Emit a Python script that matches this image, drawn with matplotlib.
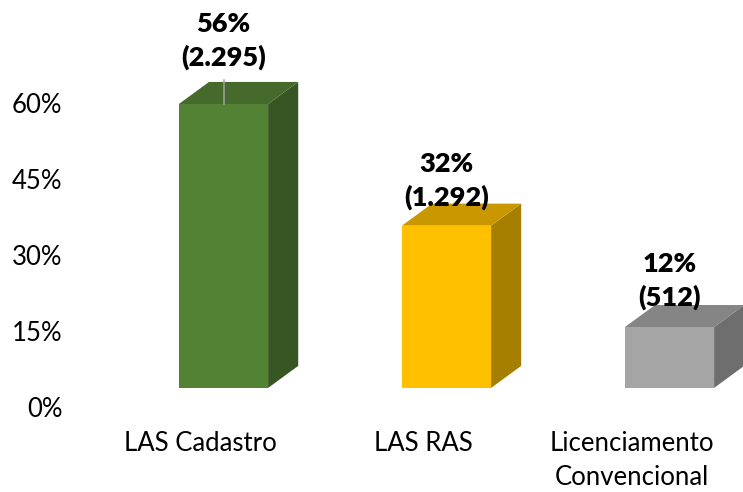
import matplotlib
matplotlib.use("Agg")
import matplotlib.pyplot as plt
from matplotlib.patches import Polygon

# ---------------------------------------------------------------------------
# data
# ---------------------------------------------------------------------------
categories = ["LAS Cadastro", "LAS RAS", "Licenciamento\nConvencional"]
shares = [56, 32, 12]            # %
counts = [2295, 1292, 512]
ytick_values = [0, 15, 30, 45, 60]

# ---------------------------------------------------------------------------
# styling
# ---------------------------------------------------------------------------
front_colors = ["#548235", "#FFC000", "#A5A5A5"]
side_colors = ["#375623", "#A67E00", "#6E6E6E"]
top_colors = ["#46692C", "#C99700", "#858585"]

bar_w = 0.40
depth_x = 0.135
depth_y = 4.35
axis_shift = -3.75               # wall offset of the value axis
label_lift = [12.4, 8.8, 9.1]
xlabel_shift = [-0.105, -0.105, -0.168]

plt.rcParams["font.family"] = ["Lato", "DejaVu Sans"]

fig = plt.figure(figsize=(7.43, 4.92), dpi=100)
ax = fig.add_axes([100 / 743, 0.16, 643 / 743, 0.8244])


def box(ax, x, h, fc, sc, tc):
    l, r = x - bar_w / 2, x + bar_w / 2
    ax.add_patch(Polygon([(l, 0), (r, 0), (r, h), (l, h)],
                         closed=True, fc=fc, ec="none", zorder=3))
    ax.add_patch(Polygon([(r, 0), (r + depth_x, depth_y),
                          (r + depth_x, h + depth_y), (r, h)],
                         closed=True, fc=sc, ec="none", zorder=2))
    ax.add_patch(Polygon([(l, h), (l + depth_x, h + depth_y),
                          (r + depth_x, h + depth_y), (r, h)],
                         closed=True, fc=tc, ec="none", zorder=2))


for i, (h, n) in enumerate(zip(shares, counts)):
    box(ax, i, h, front_colors[i], side_colors[i], top_colors[i])
    txt = f"{h}%\n({n:,})".replace(",", ".")
    ax.text(i, h + label_lift[i], txt, ha="center", va="center",
            fontsize=19.5, fontweight="heavy", linespacing=1.42, zorder=5)

# leader line for the first label
ax.plot([0, 0], [shares[0], shares[0] + 4.8], color="#A0A0A0", lw=1.1, zorder=4)

ax.set_xlim(-123.5 / 223, 519.5 / 223)
ax.set_ylim(-5, 75)

ax.set_yticks([v + axis_shift for v in ytick_values])
ax.set_yticklabels([f"{v}%" for v in ytick_values])
ax.set_xticks([i + s for i, s in enumerate(xlabel_shift)])
ax.set_xticklabels(categories, linespacing=1.45)
ax.tick_params(axis="y", length=0, pad=27, labelsize=18.5, colors="#000000")
ax.tick_params(axis="x", length=0, pad=13, labelsize=18.5, colors="#000000")

for s in ax.spines.values():
    s.set_visible(False)
ax.set_facecolor("none")

fig.savefig("out.png", dpi=100)
